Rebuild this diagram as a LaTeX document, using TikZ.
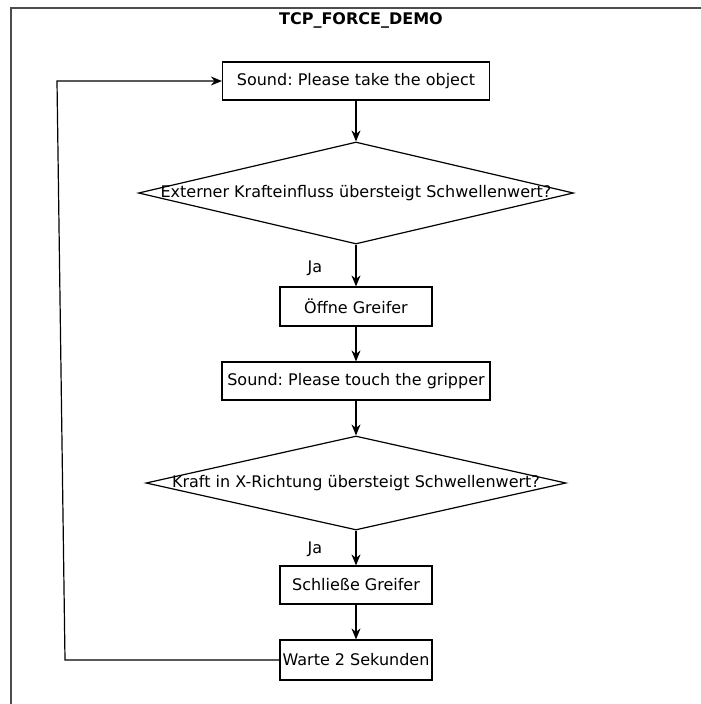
\documentclass[tikz,border=0pt]{standalone}
\usepackage{fontspec}
\setmainfont{DejaVu Sans}
\usetikzlibrary{shapes.geometric,arrows.meta}
\frenchspacing
\begin{document}
\begin{tikzpicture}[x=1pt,y=-1pt,
  every node/.style={font=\fontsize{16}{19}\selectfont},
  box/.style={draw,line width=1.2pt,rectangle,inner sep=0pt},
  dia/.style={draw,line width=1.2pt,diamond,inner sep=0pt},
  lbl/.style={inner sep=0pt},
  arr/.style={line width=1.2pt,-{Stealth[length=11pt,width=9pt]}},
  ln/.style={line width=1.2pt}]
\useasboundingbox (0,0) rectangle (701,704);
\draw[line width=1.8pt,draw=black!70] (11,704) -- (11,8) -- (701,8);
\node[lbl,font=\fontsize{16}{19}\selectfont\bfseries] (title) at (361,20) {TCP\_FORCE\_DEMO};
\node[box,minimum width=267pt,minimum height=38pt] (b1) at (356,81) {Sound: Please take the object};
\node[dia,minimum width=435pt,minimum height=102pt] (d1) at (356,193) {};
\node[lbl] (t1) at (d1.center) {Externer Krafteinfluss übersteigt Schwellenwert?};
\node[lbl] (ja1) at (315,268) {Ja};
\node[box,minimum width=152pt,minimum height=39pt] (b2) at (356,306.5) {Öffne Greifer};
\node[box,minimum width=268pt,minimum height=38pt] (b3) at (356,381) {Sound: Please touch the gripper};
\node[dia,minimum width=420pt,minimum height=94pt] (d2) at (356,483) {};
\node[lbl] (t2) at (d2.center) {Kraft in X-Richtung übersteigt Schwellenwert?};
\node[lbl] (ja2) at (315,549) {Ja};
\node[box,minimum width=152pt,minimum height=38pt] (b4) at (356,585) {Schließe Greifer};
\node[box,minimum width=152pt,minimum height=40pt] (b5) at (356,660) {Warte 2 Sekunden};
\coordinate (c1) at (65,660);
\coordinate (c2) at (57,81);
\draw[arr] (b1) -- (d1.north);
\draw[arr] (d1.south) -- (b2);
\draw[arr] (b2) -- (b3);
\draw[arr] (b3) -- (d2.north);
\draw[arr] (d2.south) -- (b4);
\draw[arr] (b4) -- (b5);
\draw[arr] (b5.west) -- (c1) -- (c2) -- (b1.west);
\end{tikzpicture}
\end{document}
